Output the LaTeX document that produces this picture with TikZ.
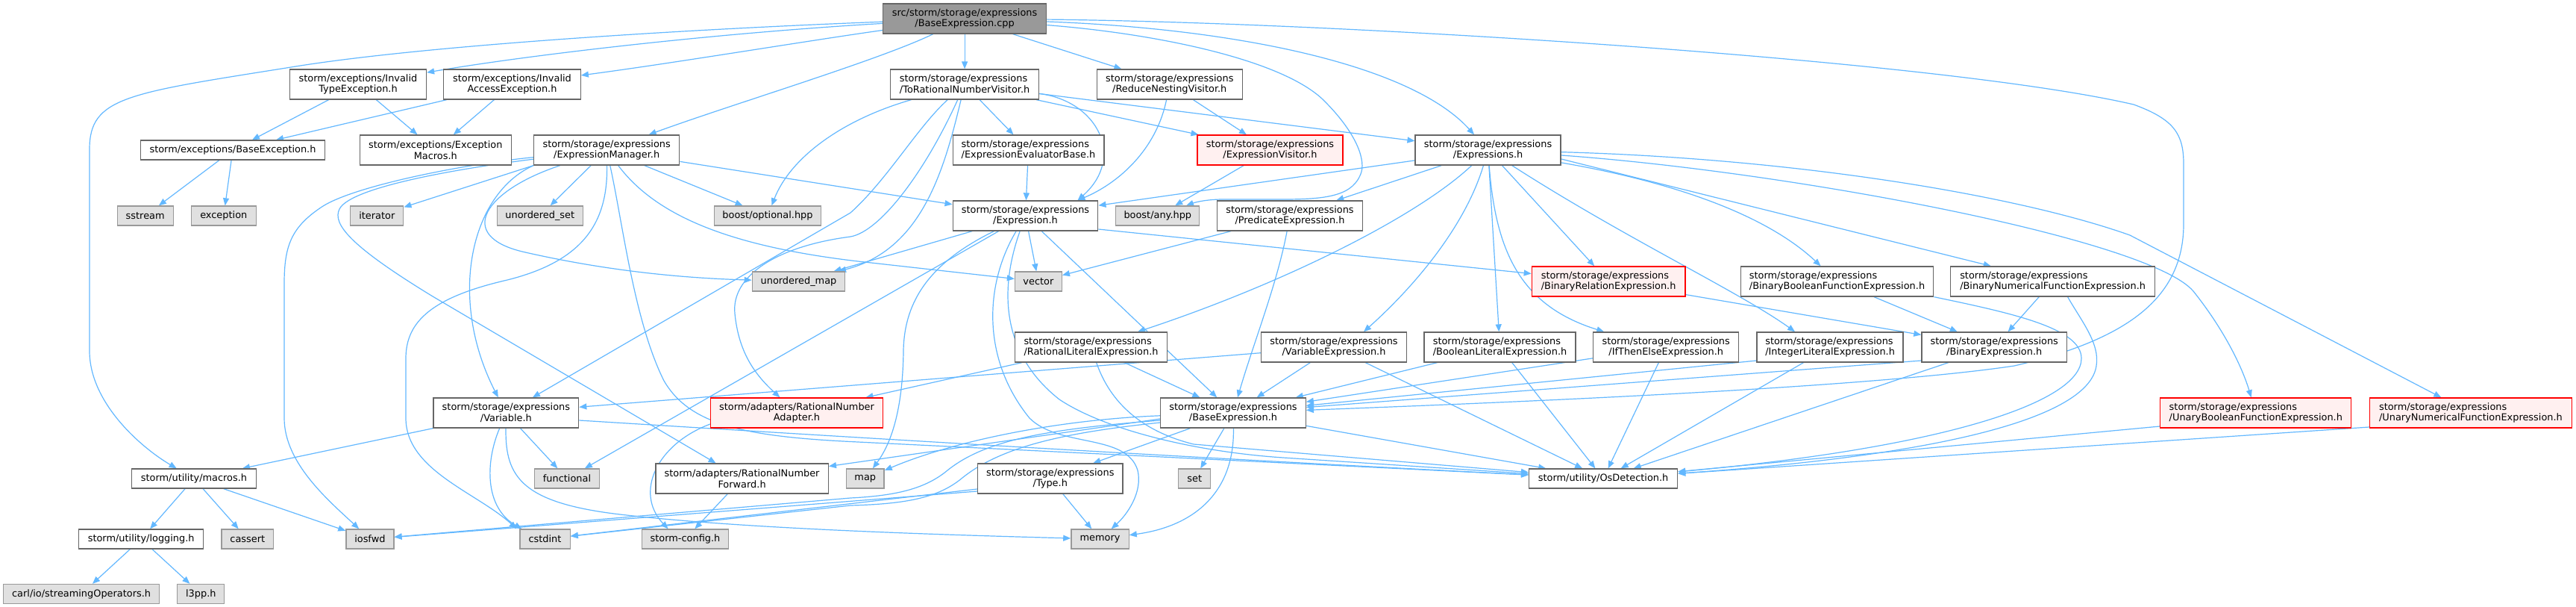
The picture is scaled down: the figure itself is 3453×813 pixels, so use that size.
\documentclass[tikz,border=0pt]{standalone}
\usepackage{fontspec}
\setmainfont{DejaVu Sans}
\usetikzlibrary{arrows.meta}
\pgfdeclarelayer{background}
\pgfsetlayers{background,main}
\definecolor{cedge}{HTML}{63B8FF}
\definecolor{cbord}{HTML}{666666}
\definecolor{cextb}{HTML}{999999}
\definecolor{cextf}{HTML}{E0E0E0}
\definecolor{croot}{HTML}{999999}
\definecolor{credb}{HTML}{FF0000}
\definecolor{credf}{HTML}{FFF0F0}
\newcommand{\graphfont}{\fontsize{12.9}{14.7}\selectfont}
\begin{document}
\begin{tikzpicture}[x=1pt,y=-1pt,
 nbase/.style={draw=cbord,line width=1.3pt,inner sep=0pt,font=\graphfont,align=center},
 one/.style={nbase,fill=white,minimum height=26pt},
 two/.style={nbase,fill=white,minimum height=40pt},
 ext/.style={nbase,draw=cextb,fill=cextf,minimum height=26pt},
 redbox/.style={nbase,draw=credb,fill=credf,minimum height=40pt},
 rootbox/.style={two,fill=croot},
 lnk/.style={draw=cedge,line width=1.2pt,-{Triangle[length=10pt,width=8pt]}}
]
\useasboundingbox (0,0) rectangle (3453,813);
% nodes
\node[rootbox,minimum width=219pt] (R) at (1293.1,25) {src/storm/storage/expressions\\/BaseExpression.cpp};
\node[two,minimum width=183pt] (InvT) at (480,113) {storm/exceptions/Invalid\\TypeException.h};
\node[two,minimum width=183.5pt] (InvA) at (686.5,113) {storm/exceptions/Invalid\\AccessException.h};
\node[one,minimum width=247pt] (BEx) at (312,201) {storm/exceptions/BaseException.h};
\node[two,minimum width=203pt] (EMac) at (583.8,201) {storm/exceptions/Exception\\Macros.h};
\node[two,minimum width=195pt] (EM) at (813.2,201) {storm/storage/expressions\\/ExpressionManager.h};
\node[ext,minimum width=75pt] (sstream) at (194.7,289) {sstream};
\node[ext,minimum width=87pt] (exception) at (299.8,289) {exception};
\node[ext,minimum width=71pt] (iterator) at (505.3,289) {iterator};
\node[ext,minimum width=114.7pt] (uset) at (723.8,289) {unordered\_set};
\node[ext,minimum width=142.7pt] (optional) at (1029,289) {boost/optional.hpp};
\node[ext,minimum width=124.3pt] (umap) at (1070.5,377) {unordered\_map};
\node[two,minimum width=199pt,align=left] (ToR) at (1293.1,113) {storm/storage/expressions\\/ToRationalNumberVisitor.h};
\node[two,minimum width=195pt] (RNV) at (1567.8,113) {storm/storage/expressions\\/ReduceNestingVisitor.h};
\node[two,minimum width=202.7pt,align=left] (EEB) at (1378.5,201) {storm/storage/expressions\\/ExpressionEvaluatorBase.h};
\node[redbox,minimum width=195pt] (EV) at (1702.5,201) {storm/storage/expressions\\/ExpressionVisitor.h};
\node[two,minimum width=194.6pt] (Expr) at (1374.5,289) {storm/storage/expressions\\/Expression.h};
\node[ext,minimum width=112pt] (any) at (1551.8,289) {boost/any.hpp};
\node[two,minimum width=195pt] (Pred) at (1729,289) {storm/storage/expressions\\/PredicateExpression.h};
\node[ext,minimum width=62.8pt] (vector) at (1391.9,377) {vector};
\node[two,minimum width=195pt] (Exprs) at (1994.6,201) {storm/storage/expressions\\/Expressions.h};
\node[redbox,minimum width=205.6pt,align=left] (BRE) at (2156.1,377) {storm/storage/expressions\\/BinaryRelationExpression.h};
\node[two,minimum width=258.5pt,align=left] (BBFE) at (2462.5,377) {storm/storage/expressions\\/BinaryBooleanFunctionExpression.h};
\node[two,minimum width=273.7pt,align=left] (BNFE) at (2751.6,377) {storm/storage/expressions\\/BinaryNumericalFunctionExpression.h};
\node[redbox,minimum width=256pt,align=left] (UBFE) at (3023.8,553) {storm/storage/expressions\\/UnaryBooleanFunctionExpression.h};
\node[redbox,minimum width=270.8pt,align=left] (UNFE) at (3311.9,553) {storm/storage/expressions\\/UnaryNumericalFunctionExpression.h};
\node[two,minimum width=204pt,align=left] (RLE) at (1462.5,465) {storm/storage/expressions\\/RationalLiteralExpression.h};
\node[two,minimum width=194.5pt] (VE) at (1788,465) {storm/storage/expressions\\/VariableExpression.h};
\node[redbox,minimum width=230.8pt] (RNA) at (1068,553) {storm/adapters/RationalNumber\\Adapter.h};
\node[two,minimum width=194.5pt] (BE) at (1653,553) {storm/storage/expressions\\/BaseExpression.h};
\node[ext,minimum width=50.6pt] (map) at (1159.8,641) {map};
\node[two,minimum width=194.6pt] (Type) at (1407.8,641) {storm/storage/expressions\\/Type.h};
\node[ext,minimum width=43pt] (set) at (1601.2,641) {set};
\node[ext,minimum width=77.3pt] (memory) at (1474.5,722) {memory};
\node[two,minimum width=203pt,align=left] (BLE) at (2010.5,465) {storm/storage/expressions\\/BooleanLiteralExpression.h};
\node[two,minimum width=195pt] (ITE) at (2233.2,465) {storm/storage/expressions\\/IfThenElseExpression.h};
\node[one,minimum width=199pt] (OsD) at (2149.1,641) {storm/utility/OsDetection.h};
\node[two,minimum width=196pt,align=left] (ILE) at (2453.1,465) {storm/storage/expressions\\/IntegerLiteralExpression.h};
\node[two,minimum width=194.6pt] (BinE) at (2673.2,465) {storm/storage/expressions\\/BinaryExpression.h};
\node[two,minimum width=194.6pt] (Var) at (678.4,553) {storm/storage/expressions\\/Variable.h};
\node[ext,minimum width=87pt] (func) at (760,641) {functional};
\node[two,minimum width=231.5pt] (RNF) at (994.6,641) {storm/adapters/RationalNumber\\Forward.h};
\node[ext,minimum width=67.3pt] (cstdint) at (730.5,722) {cstdint};
\node[ext,minimum width=116pt] (sconf) at (918.5,722) {storm-config.h};
\node[one,minimum width=166.5pt] (macros) at (260,641) {storm/utility/macros.h};
\node[one,minimum width=166.8pt] (logging) at (189.2,722) {storm/utility/logging.h};
\node[ext,minimum width=69.6pt] (cassert) at (331.8,722) {cassert};
\node[ext,minimum width=64pt] (iosfwd) at (495.9,722) {iosfwd};
\node[ext,minimum width=208.6pt] (carl) at (109.1,795.5) {carl/io/streamingOperators.h};
\node[ext,minimum width=63pt] (l3pp) at (269.3,795.5) {l3pp.h};
% edges
\begin{pgfonlayer}{background}
\fill[white] (0,0) rectangle (3453,813);
% root
\draw[lnk] (R) .. controls (900,40) and (560,62) .. (390,90) .. controls (170,125) and (120,130) .. (120,200) -- (120,470) .. controls (120,540) and (190,600) .. (macros);
\draw[lnk] (R) .. controls (950,45) and (700,75) .. (InvT);
\draw[lnk] (R) .. controls (1080,55) and (900,85) .. (InvA);
\draw[lnk] (R) .. controls (1180,80) and (980,140) .. (EM);
\draw[lnk] (R) -- (ToR);
\draw[lnk] (R) -- (RNV);
\draw[lnk] (R) .. controls (1650,38) and (1890,85) .. (Exprs);
\draw[lnk] (R) .. controls (1800,30) and (2600,80) .. (2860,140) .. controls (2915,160) and (2927,180) .. (2927,220) -- (2927,300) .. controls (2927,400) and (2850,455) .. (2700,490) .. controls (2500,520) and (2000,540) .. (BE);
\draw[lnk] (R) .. controls (1550,45) and (1720,80) .. (1775,135) .. controls (1815,175) and (1830,210) .. (1825,230) .. controls (1815,262) and (1780,267) .. (1720,267) -- (1640,267) .. controls (1620,267) and (1605,270) .. (any);
% exceptions
\draw[lnk] (InvT) -- (BEx);
\draw[lnk] (InvT) -- (EMac);
\draw[lnk] (InvA) -- (BEx);
\draw[lnk] (InvA) -- (EMac);
\draw[lnk] (BEx) -- (sstream);
\draw[lnk] (BEx) -- (exception);
% expression manager
\draw[lnk] (EM.south west) -- (iterator);
\draw[lnk] (EM) -- (uset);
\draw[lnk] (EM) -- (optional);
\draw[lnk] (EM) .. controls (650,255) and (610,315) .. (700,337) .. controls (800,360) and (900,372) .. (umap);
\draw[lnk] (EM) -- (Expr);
\draw[lnk] (EM.south west) .. controls (630,260) and (600,400) .. (Var);
\draw[lnk] (EM) .. controls (620,225) and (470,250) .. (455,280) .. controls (445,300) and (470,330) .. (580,397) -- (RNF);
\draw[lnk] (EM) .. controls (620,220) and (470,250) .. (430,278) .. controls (390,305) and (381,330) .. (381,380) -- (381,560) .. controls (381,620) and (440,670) .. (iosfwd);
\draw[lnk] (EM) .. controls (815,300) and (780,350) .. (680,375) .. controls (580,398) and (544,430) .. (544,480) -- (544,560) .. controls (544,630) and (640,660) .. ([xshift=-38pt]cstdint.north);
\draw[lnk] (EM) .. controls (835,300) and (850,430) .. (890,510) .. controls (925,570) and (1000,585) .. (1150,592) -- (OsD);
\draw[lnk] (EM) .. controls (880,290) and (980,330) .. (1150,350) -- (vector);
% to rational number visitor
\draw[lnk] (ToR) .. controls (1130,160) and (1060,210) .. (optional);
\draw[lnk] (ToR) .. controls (1230,170) and (1190,240) .. (1140,285) -- (Var);
\draw[lnk] (ToR) .. controls (1240,230) and (1180,310) .. (1140,317) .. controls (1040,330) and (980,370) .. (985,420) .. controls (990,470) and (1010,500) .. (RNA);
\draw[lnk] (ToR) .. controls (1265,230) and (1235,335) .. (umap);
\draw[lnk] (ToR) -- (EEB);
\draw[lnk] (ToR) .. controls (1470,135) and (1510,210) .. ([xshift=70pt]Expr.north);
\draw[lnk] (ToR) -- (Exprs);
\draw[lnk] (ToR) -- (EV);
% reduce nesting etc.
\draw[lnk] (RNV) .. controls (1550,200) and (1500,245) .. ([xshift=70pt]Expr.north);
\draw[lnk] (RNV) -- (EV);
\draw[lnk] (EEB) -- (Expr);
\draw[lnk] (EV) -- (any);
% expressions.h
\draw[lnk] (Exprs) -- (Expr);
\draw[lnk] (Exprs) -- (Pred);
\draw[lnk] (Exprs) .. controls (1900,290) and (1720,380) .. (RLE);
\draw[lnk] (Exprs) .. controls (1965,300) and (1900,380) .. ([xshift=40pt]VE.north);
\draw[lnk] (Exprs) -- (BLE);
\draw[lnk] (Exprs) .. controls (2005,340) and (2040,410) .. ([xshift=-83pt]ITE.north);
\draw[lnk] (Exprs) -- (BRE);
\draw[lnk] (Exprs) .. controls (2180,320) and (2330,390) .. ([xshift=-47pt]ILE.north);
\draw[lnk] (Exprs) .. controls (2250,245) and (2370,290) .. (BBFE);
\draw[lnk] ([yshift=-12pt]Exprs.east) -- (BNFE);
\draw[lnk] (Exprs) .. controls (2400,230) and (2880,320) .. (2940,390) .. controls (2980,440) and (3005,490) .. (UBFE);
\draw[lnk] (Exprs) .. controls (2400,212) and (2700,260) .. (2855,315) -- (UNFE);
% expression.h
\draw[lnk] (Expr) -- (umap);
\draw[lnk] (Expr) .. controls (1250,350) and (1212,400) .. (1211,470) .. controls (1210,560) and (1190,600) .. (map);
\draw[lnk] (Expr) -- (func);
\draw[lnk] (Expr) .. controls (1320,380) and (1315,480) .. (1380,560) .. controls (1420,600) and (1510,580) .. (1525,630) .. controls (1532,660) and (1510,690) .. (memory);
\draw[lnk] (Expr) .. controls (1335,400) and (1350,480) .. (1420,535) .. controls (1480,575) and (1600,605) .. (1720,613) -- (OsD);
\draw[lnk] (Expr) -- (vector);
\draw[lnk] (Expr) -- (BE);
\draw[lnk] ([yshift=-18pt]Expr.east) -- (BRE);
% predicate, relation
\draw[lnk] (Pred) -- (vector);
\draw[lnk] (Pred) .. controls (1712,380) and (1680,460) .. (BE);
\draw[lnk] (BRE) -- (BinE);
% literal and other expressions
\draw[lnk] (RLE) -- (RNA);
\draw[lnk] (RLE) -- (BE);
\draw[lnk] (RLE) .. controls (1485,530) and (1520,575) .. (1600,595) -- (OsD);
\draw[lnk] (VE) -- (Var);
\draw[lnk] (VE) -- (BE);
\draw[lnk] (VE) -- (OsD);
\draw[lnk] (BLE) -- (BE);
\draw[lnk] (BLE) -- (OsD);
\draw[lnk] (ITE) -- (BE);
\draw[lnk] (ITE) -- (OsD);
\draw[lnk] ([yshift=-18pt]ILE.west) -- (BE);
\draw[lnk] (ILE) -- (OsD);
\draw[lnk] ([yshift=-18pt]BinE.west) -- (BE);
\draw[lnk] (BinE) -- (OsD);
\draw[lnk] (BBFE) -- (BinE);
\draw[lnk] (BBFE.south east) .. controls (2700,420) and (2790,440) .. (2790,480) .. controls (2790,540) and (2600,600) .. (OsD);
\draw[lnk] (BNFE) -- (BinE);
\draw[lnk] ([xshift=20pt]BNFE.south) .. controls (2790,430) and (2815,460) .. (2810,490) .. controls (2800,560) and (2600,610) .. (OsD);
\draw[lnk] ([yshift=-18pt]UBFE.west) -- (OsD);
\draw[lnk] ([yshift=-19pt]UNFE.west) -- (OsD);
% variable.h
\draw[lnk] (Var.south west) -- (macros);
\draw[lnk] (Var) -- (func);
\draw[lnk] (Var) .. controls (650,620) and (650,680) .. ([xshift=-31pt]cstdint.north);
\draw[lnk] (Var) .. controls (677,640) and (700,675) .. (840,690) .. controls (1000,708) and (1250,716) .. (memory);
\draw[lnk] ([yshift=-10pt]Var.east) .. controls (1050,580) and (1500,608) .. (OsD);
% adapters
\draw[lnk] ([yshift=-15pt]RNA.west) .. controls (880,595) and (850,660) .. ([xshift=-23pt]sconf.north);
\draw[lnk] (RNF) -- (sconf);
% base expression
\draw[lnk] (BE) .. controls (1420,562) and (1280,590) .. (map);
\draw[lnk] ([yshift=-8pt]BE.west) -- (RNF);
\draw[lnk] ([yshift=-10pt]BE.west) .. controls (1400,575) and (1320,590) .. (1270,630) .. controls (1240,655) and (1200,664) .. (1140,667) -- (iosfwd);
\draw[lnk] ([yshift=-13pt]BE.west) .. controls (1420,580) and (1340,600) .. (1290,640) .. controls (1260,665) and (1220,675) .. (1140,677) -- (cstdint);
\draw[lnk] (BE) -- (Type);
\draw[lnk] (BE) -- (set);
\draw[lnk] (BE) .. controls (1655,660) and (1600,705) .. (memory);
\draw[lnk] (BE) -- (OsD);
% type
\draw[lnk] (Type) -- (memory);
\draw[lnk] ([yshift=-14pt]Type.west) -- (cstdint);
\draw[lnk] ([yshift=-17pt]Type.west) -- (iosfwd);
% utility
\draw[lnk] (macros) -- (logging);
\draw[lnk] (macros) -- (cassert);
\draw[lnk] (macros) -- (iosfwd);
\draw[lnk] (logging) -- (carl);
\draw[lnk] (logging) -- (l3pp);
\end{pgfonlayer}
\end{tikzpicture}
\end{document}
